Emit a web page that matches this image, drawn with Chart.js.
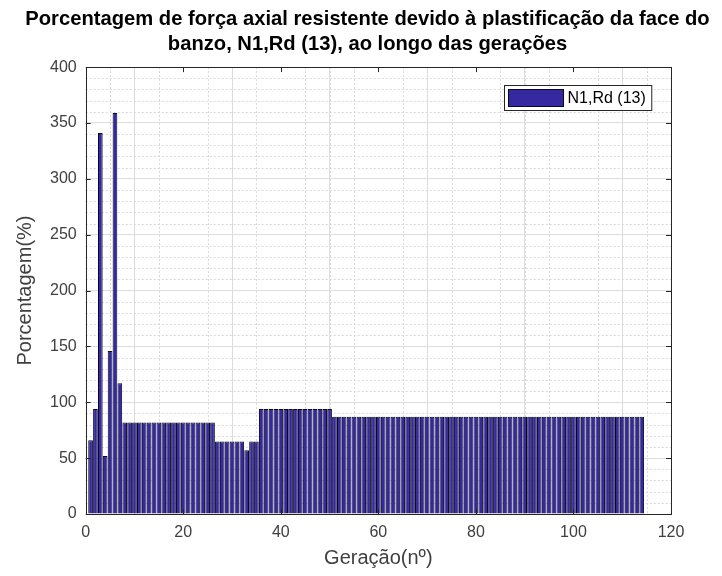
<!DOCTYPE html>
<html>
<head>
<meta charset="utf-8">
<script src="https://cdn.jsdelivr.net/npm/chart.js@4"></script>
<style>
  html, body { margin: 0; padding: 0; background: #fff; }
  #wrap { width: 722px; height: 576px; }
</style>
</head>
<body>
<div id="wrap"><canvas id="myChart" width="722" height="576"></canvas></div>
<script>
const titleLines = ['Porcentagem de força axial resistente devido à plastificação da face do', 'banzo, N1,Rd (13), ao longo das gerações'];
const seriesLabel = 'N1,Rd (13)';
const xTitle = 'Geração(nº)';
const yTitle = 'Porcentagem(%)';

// porcentagem por geração (1..114)
const percentValues = [
  66, 94, 341, 52, 146, 359, 117,
  82, 82, 82, 82, 82, 82, 82, 82, 82, 82, 82, 82, 82, 82, 82, 82, 82, 82, 82,
  65, 65, 65, 65, 65, 65, 57, 65, 65,
  94, 94, 94, 94, 94, 94, 94, 94, 94, 94, 94, 94, 94, 94, 94,
  87, 87, 87, 87, 87, 87, 87, 87, 87, 87, 87, 87, 87, 87, 87, 87,
  87, 87, 87, 87, 87, 87, 87, 87, 87, 87, 87, 87, 87, 87, 87, 87,
  87, 87, 87, 87, 87, 87, 87, 87, 87, 87, 87, 87, 87, 87, 87, 87,
  87, 87, 87, 87, 87, 87, 87, 87, 87, 87, 87, 87, 87, 87, 87, 87
];
const generations = percentValues.map((v, i) => i + 1);

const xTicks = [0, 20, 40, 60, 80, 100, 120];
const yTicks = [0, 50, 100, 150, 200, 250, 300, 350, 400];

const barFill = '#3529a0';
const barEdge = '#0a0826';
const axisGray = '#404040';

const ctx = document.getElementById('myChart');

// minor dotted grid, axis box with inward ticks and the boxed legend
const matlabLook = {
  id: 'matlabLook',
  beforeDatasetsDraw(chart) {
    const c = chart.ctx;
    const a = chart.chartArea;
    const xs = chart.scales.x;
    const ys = chart.scales.y;
    c.save();
    c.strokeStyle = '#d9d9d9';
    c.lineWidth = 1;
    c.setLineDash([2, 2]);
    for (let v = 5; v < 120; v += 5) {
      if (v % 20 === 0) continue;
      const px = Math.round(xs.getPixelForValue(v)) + 0.5;
      c.beginPath(); c.moveTo(px, a.top); c.lineTo(px, a.bottom); c.stroke();
    }
    for (let v = 10; v < 400; v += 10) {
      if (v % 50 === 0) continue;
      const py = Math.round(ys.getPixelForValue(v)) + 0.5;
      c.beginPath(); c.moveTo(a.left, py); c.lineTo(a.right, py); c.stroke();
    }
    c.restore();
  },
  afterDraw(chart) {
    const c = chart.ctx;
    const a = chart.chartArea;
    const xs = chart.scales.x;
    const ys = chart.scales.y;
    c.save();
    c.strokeStyle = '#262626';
    c.lineWidth = 1;
    c.strokeRect(Math.round(a.left) + 0.5, Math.round(a.top) + 0.5, Math.round(a.right - a.left), Math.round(a.bottom - a.top));
    xTicks.forEach(v => {
      const px = Math.round(xs.getPixelForValue(v)) + 0.5;
      c.beginPath(); c.moveTo(px, a.bottom); c.lineTo(px, a.bottom - 5); c.stroke();
      c.beginPath(); c.moveTo(px, a.top); c.lineTo(px, a.top + 5); c.stroke();
    });
    yTicks.forEach(v => {
      const py = Math.round(ys.getPixelForValue(v)) + 0.5;
      c.beginPath(); c.moveTo(a.left, py); c.lineTo(a.left + 5, py); c.stroke();
      c.beginPath(); c.moveTo(a.right, py); c.lineTo(a.right - 5, py); c.stroke();
    });

    // legend box (top right, inside the axes)
    c.font = '16px "Liberation Sans"';
    const tw = c.measureText(seriesLabel).width;
    const patchW = 55, patchH = 18;
    const boxW = 4 + patchW + 4 + tw + 6;
    const boxH = 25;
    const bx = Math.round(a.right - 20 - boxW) + 0.5;
    const by = Math.round(a.top + 18) + 0.5;
    c.fillStyle = '#fff';
    c.fillRect(bx, by, boxW, boxH);
    c.strokeStyle = '#262626';
    c.strokeRect(bx, by, boxW, boxH);
    c.fillStyle = barFill;
    c.fillRect(bx + 4, by + 4, patchW, patchH - 1);
    c.strokeStyle = barEdge;
    c.strokeRect(bx + 4, by + 4, patchW, patchH - 1);
    c.fillStyle = '#000';
    c.textBaseline = 'middle';
    c.textAlign = 'left';
    c.fillText(seriesLabel, bx + 4 + patchW + 4, by + boxH / 2 + 1);
    c.restore();
  }
};

new Chart(ctx, {
  type: 'bar',
  data: {
    datasets: [{
      label: seriesLabel,
      data: generations.map((g, i) => ({ x: g, y: percentValues[i] })),
      backgroundColor: barFill,
      borderColor: barEdge,
      borderWidth: 1,
      barPercentage: 0.96,
      categoryPercentage: 1.0
    }]
  },
  options: {
    responsive: false,
    animation: false,
    layout: { padding: { left: 13, right: 0, top: 7, bottom: 8 } },
    plugins: {
      title: {
        display: true,
        text: titleLines,
        color: '#000',
        font: { family: 'Liberation Sans', size: 20.2, weight: 'bold', lineHeight: 1.24 },
        padding: { top: 0, bottom: 10 }
      },
      legend: { display: false },
      tooltip: { enabled: false }
    },
    scales: {
      x: {
        type: 'linear',
        min: 0,
        max: 120,
        offset: false,
        ticks: {
          stepSize: 20,
          color: axisGray,
          font: { family: 'Liberation Sans', size: 16, lineHeight: 1.0 },
          padding: 11
        },
        grid: { color: '#dedede', drawTicks: false },
        border: { display: false },
        title: {
          display: true,
          text: xTitle,
          color: axisGray,
          font: { family: 'Liberation Sans', size: 20, lineHeight: 1.0 },
          padding: { top: -4, bottom: 0 }
        }
      },
      y: {
        min: 0,
        max: 400,
        ticks: {
          stepSize: 50,
          color: axisGray,
          font: { family: 'Liberation Sans', size: 16 },
          padding: 9
        },
        grid: { color: '#dedede', drawTicks: false },
        border: { display: false },
        title: {
          display: true,
          text: yTitle,
          color: axisGray,
          font: { family: 'Liberation Sans', size: 20, lineHeight: 1.2 },
          padding: { top: 0, bottom: 4 }
        }
      },
      // empty right margin, keeps the title centred like the original
      yRight: {
        position: 'right',
        min: 0,
        max: 400,
        ticks: { display: false },
        grid: { display: false, drawOnChartArea: false },
        border: { display: false },
        afterFit(scale) { scale.width = 51; }
      }
    }
  },
  plugins: [matlabLook]
});
</script>
</body>
</html>
